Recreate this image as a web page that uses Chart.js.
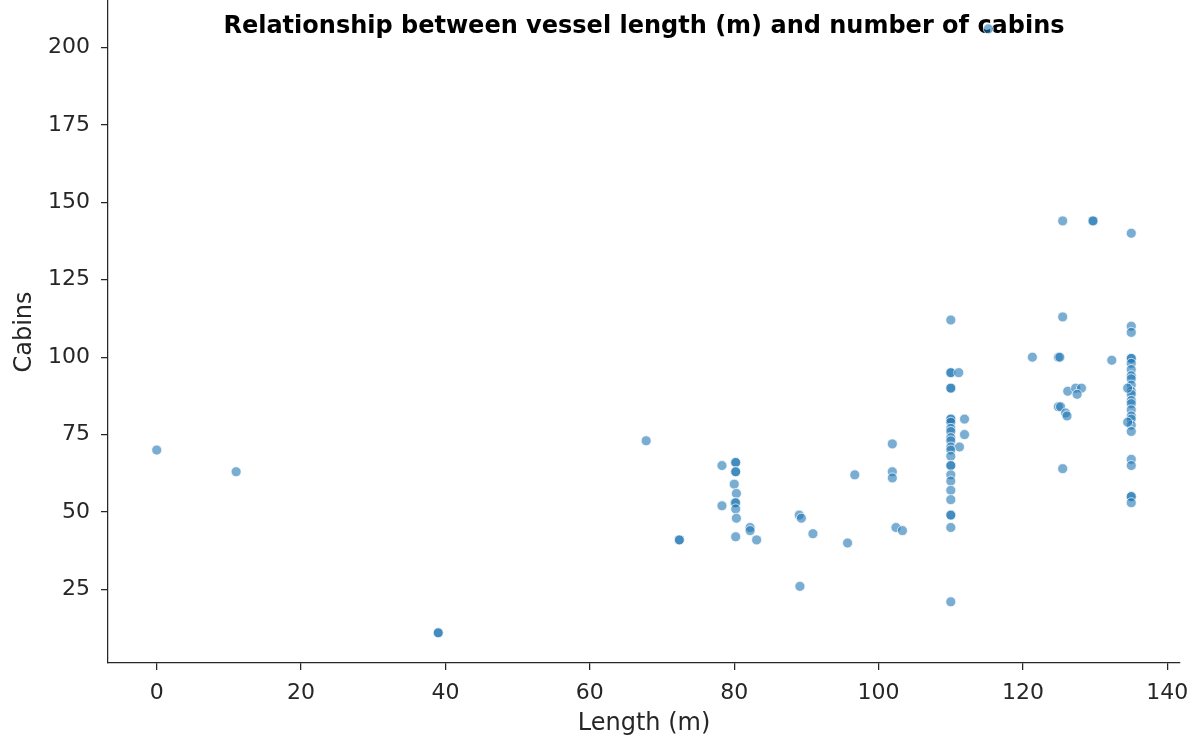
<!DOCTYPE html>
<html>
<head>
<meta charset="utf-8">
<script src="https://cdn.jsdelivr.net/npm/chart.js@4.4.1/dist/chart.umd.min.js"></script>
<style>
  html, body { margin: 0; padding: 0; background: #fff; overflow: hidden; }
  #wrap { width: 1194px; height: 743px; position: relative; top: -5px; }
</style>
</head>
<body>
<div id="wrap"><canvas id="scatterChart"></canvas></div>
<script>
// vessel length (m) and cabins
const lengthM = [
  0, 11, 39, 39, 67.8, 72.4, 72.4,
  78.3, 78.3, 80.2, 80.2, 80.2, 80.2, 80, 80.3, 80.1, 80.2, 80.2, 80.3, 80.2,
  82.2, 82.2, 83.1,
  89, 89.3, 90.9, 89.1, 95.7, 96.7,
  101.9, 101.9, 101.9, 102.4, 103.3,
  110, 110, 110, 111.1, 110, 110, 110, 111.9, 110, 110, 110, 110, 111.9, 110, 110,
  110, 111.2, 110, 110, 110, 110, 110, 110, 110, 110, 110, 110, 110, 110,
  115.2,
  121.3, 124.9, 125.1, 125.5, 125.5, 125.5, 129.7, 129.7, 132.3,
  126.2, 127.3, 128.1, 127.5, 124.9, 125.2, 125.9, 126.1,
  135, 135, 135, 135, 135, 135, 135, 135, 135, 135, 135, 135, 135, 135, 135, 135,
  135, 135, 135, 134.5, 134.5, 135, 135, 135, 135, 135
];
const cabins = [
  70, 63, 11, 11, 73, 41, 41,
  65, 52, 66, 66, 63, 63, 59, 56, 53, 53, 51, 48, 42,
  45, 44, 41,
  49, 48, 43, 26, 40, 62,
  72, 63, 61, 45, 44,
  112, 95, 95, 95, 90, 90, 80, 80, 80, 79, 77, 76, 75, 74, 73,
  71, 71, 70, 68, 65, 65, 62, 60, 57, 54, 49, 49, 45, 21,
  206,
  100, 100, 100, 144, 113, 64, 144, 144, 99,
  89, 90, 90, 88, 84, 84, 82, 81,
  140, 110, 108, 99.6, 99.6, 98, 96, 94, 93, 91, 89, 88, 86, 85, 83, 81,
  80, 78, 76, 90, 79, 67, 65, 55, 55, 53
];
const xTicks = [0, 20, 40, 60, 80, 100, 120, 140];
const yTicks = [25, 50, 75, 100, 125, 150, 175, 200];
const chartTitle = 'Relationship between vessel length (m) and number of cabins';

const axisColor = '#262626';

// title sits inside the plot, under the dots
const titleOverlay = {
  id: 'titleOverlay',
  beforeDatasetsDraw(chart) {
    const ctx = chart.ctx, a = chart.chartArea;
    ctx.save();
    ctx.font = 'bold 24px "DejaVu Sans"';
    ctx.fillStyle = '#000';
    ctx.textAlign = 'center';
    ctx.textBaseline = 'middle';
    ctx.fillText(chartTitle, (a.left + a.right) / 2, 32);
    ctx.restore();
  }
};

const ctx = document.getElementById('scatterChart').getContext('2d');
new Chart(ctx, {
  type: 'scatter',
  data: {
    datasets: [{
      data: lengthM.map((x, i) => ({ x: x, y: cabins[i] })),
      backgroundColor: 'rgba(31,119,180,0.6)',
      borderColor: 'rgba(255,255,255,0.7)',
      borderWidth: 1,
      pointRadius: 5,
      clip: false
    }]
  },
  options: {
    responsive: true,
    maintainAspectRatio: false,
    animation: false,
    layout: { padding: { left: 0, right: 14, top: 0, bottom: 0 } },
    plugins: { legend: { display: false }, tooltip: { enabled: false } },
    scales: {
      x: {
        type: 'linear', min: -6.75, max: 141.75,
        afterBuildTicks: s => { s.ticks = xTicks.map(v => ({ value: v })); },
        afterFit: s => { s.height = 75; s.paddingLeft = 0; s.paddingRight = 0; },
        grid: { drawOnChartArea: false, tickLength: 7, color: axisColor, lineWidth: 1.25 },
        border: { color: axisColor, width: 1.25 },
        ticks: { color: axisColor, font: { family: 'DejaVu Sans', size: 22 }, padding: 10, maxRotation: 0 },
        title: { display: true, text: 'Length (m)', color: axisColor,
                 font: { family: 'DejaVu Sans', size: 24 }, padding: { top: 0, bottom: 0 } }
      },
      y: {
        type: 'linear', min: 1.25, max: 215,
        afterBuildTicks: s => { s.ticks = yTicks.map(v => ({ value: v })); },
        afterFit: s => { s.width = 108; s.paddingTop = 0; s.paddingBottom = 0; },
        grid: { drawOnChartArea: false, tickLength: 7, color: axisColor, lineWidth: 1.25 },
        border: { color: axisColor, width: 1.25 },
        ticks: { color: axisColor, font: { family: 'DejaVu Sans', size: 22 }, padding: 11 },
        title: { display: true, text: 'Cabins', color: axisColor,
                 font: { family: 'DejaVu Sans', size: 24 }, padding: { top: 10, bottom: 0 } }
      }
    }
  },
  plugins: [titleOverlay]
});
</script>
</body>
</html>
